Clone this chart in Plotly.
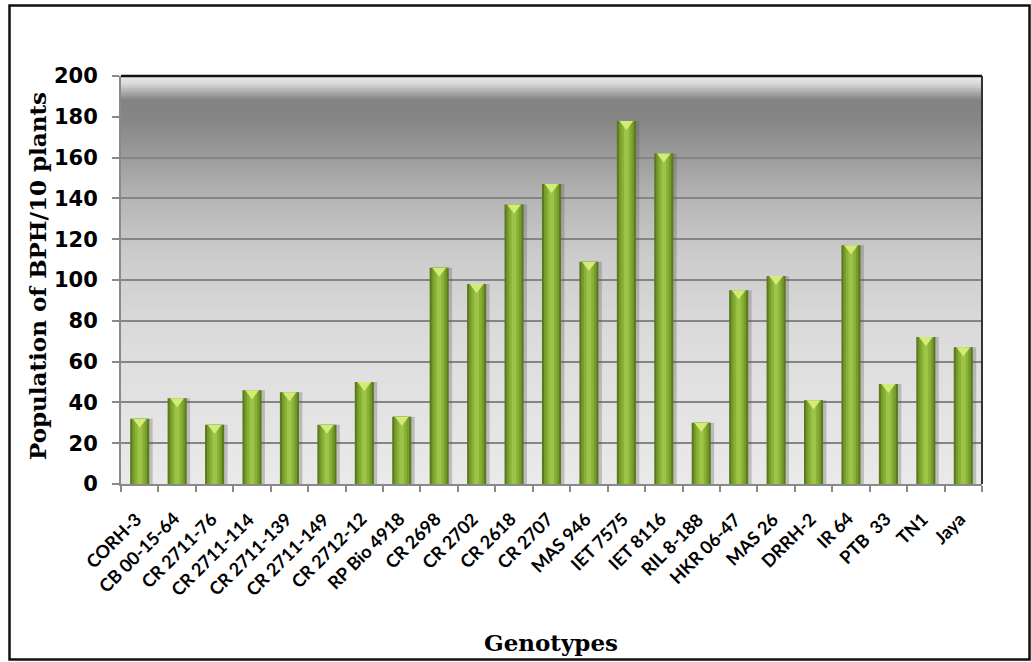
import plotly.graph_objects as go

# Genotypes and brown planthopper counts per 10 plants
genotypes = ["CORH-3", "CB 00-15-64", "CR 2711-76", "CR 2711-114", "CR 2711-139",
             "CR 2711-149", "CR 2712-12", "RP Bio 4918", "CR 2698", "CR 2702",
             "CR 2618", "CR 2707", "MAS 946", "IET 7575", "IET 8116", "RIL 8-188",
             "HKR 06-47", "MAS 26", "DRRH-2", "IR 64", "PTB  33", "TN1", "Jaya"]
bph_population = [32, 42, 29, 46, 45, 29, 50, 33, 106, 98, 137, 147, 109, 178, 162,
                  30, 95, 102, 41, 117, 49, 72, 67]

y_ticks = [0, 20, 40, 60, 80, 100, 120, 140, 160, 180, 200]

# Plot-area geometry (pixels) used to place decorations
W, H = 1031, 662
L, R, T, B = 121, 982, 76, 484
PW, PH = R - L, B - T


def px_x(p):
    return (p - L) / PW


def px_y(p):
    return (B - p) / PH


fig = go.Figure()

bar_w = 0.51
# soft drop shadow to the right of each column
fig.add_trace(go.Bar(x=genotypes, y=bph_population, width=bar_w, offset=-bar_w / 2 + 0.09,
                     marker=dict(color="rgba(90,90,90,0.30)", line=dict(width=0)),
                     hoverinfo="skip", showlegend=False))
# cylinder shading: dark rim, mid body, bright core
for w, col in [(bar_w, "#5b7a1c"), (0.40, "#769c2c"), (0.27, "#89b137"), (0.13, "#9cc548")]:
    fig.add_trace(go.Bar(x=genotypes, y=bph_population, width=w, offset=-w / 2,
                         marker=dict(color=col, line=dict(width=0)),
                         hoverinfo="skip", showlegend=False))

# light caps on the column tops
cap_size = 12
cap_shift = (cap_size / 4) * 200 / PH
fig.add_trace(go.Scatter(x=genotypes, y=[v - cap_shift for v in bph_population], mode="markers",
                         marker=dict(symbol="triangle-down", size=cap_size, color="#d3ec78",
                                     line=dict(width=0)),
                         hoverinfo="skip", showlegend=False))

# vertical gray gradient for the plotting area (style stops: pixel row -> gray level)
stops = [(76, 238), (84, 216), (92, 172), (100, 130), (120, 134), (160, 158),
         (200, 182), (260, 205), (340, 220), (420, 228), (484, 234)]


def gray_at(p):
    for (p0, g0), (p1, g1) in zip(stops[:-1], stops[1:]):
        if p0 <= p <= p1:
            return g0 + (g1 - g0) * (p - p0) / (p1 - p0)
    return stops[-1][1]


shapes = []
step = 2
for p in range(T, B, step):
    g = int(round(gray_at(p + step / 2)))
    shapes.append(dict(type="rect", xref="paper", yref="paper", layer="below",
                       x0=0, x1=1, y0=px_y(p + step), y1=px_y(p),
                       fillcolor=f"rgb({g},{g},{g})", line=dict(width=0)))

# top and right border of the plotting area
shapes.append(dict(type="line", xref="paper", yref="paper", x0=0, x1=1, y0=1, y1=1,
                   line=dict(color="#111111", width=2.5)))
shapes.append(dict(type="line", xref="paper", yref="paper", x0=1, x1=1, y0=0, y1=1,
                   line=dict(color="#333333", width=2)))
# outer frame around the whole chart
shapes.append(dict(type="rect", xref="paper", yref="paper",
                   x0=px_x(9.5), x1=px_x(1029.5), y0=px_y(659.5), y1=px_y(5.5),
                   line=dict(color="#111111", width=2.5), fillcolor="rgba(0,0,0,0)"))

# slanted category labels under the axis
label_font = dict(family="Lato", size=18, color="black", weight="bold")
annotations = [
    dict(text=g, x=g, xref="x", y=px_y(505), yref="paper", xanchor="right", yanchor="top",
         xshift=9, textangle=-45, showarrow=False, font=label_font)
    for g in genotypes
]
annotations += [
    dict(text="<b>Population of BPH/10 plants</b>", xref="paper", yref="paper",
         x=px_x(37), y=px_y(276), xanchor="center", yanchor="middle",
         textangle=-90, showarrow=False,
         font=dict(family="DejaVu Serif", size=23, color="black")),
    dict(text="<b>Genotypes</b>", xref="paper", yref="paper",
         x=px_x(551), y=px_y(642), xanchor="center", yanchor="middle", showarrow=False,
         font=dict(family="DejaVu Serif", size=23, color="black")),
]

fig.update_layout(
    width=W, height=H,
    margin=dict(l=L, r=W - R, t=T, b=H - B, autoexpand=False),
    paper_bgcolor="white",
    plot_bgcolor="rgba(0,0,0,0)",
    barmode="overlay",
    bargap=0.49,
    showlegend=False,
    shapes=shapes,
    annotations=annotations,
)

fig.update_xaxes(
    type="category", categoryorder="array", categoryarray=genotypes,
    tickson="boundaries", showticklabels=False,
    ticks="outside", ticklen=6, tickcolor="#8a8a8a", tickwidth=1.5,
    showline=True, linecolor="#8a8a8a", linewidth=2,
    showgrid=False, range=[-0.5, len(genotypes) - 0.5],
    automargin=False,
)

fig.update_yaxes(
    range=[0, 200], tickvals=y_ticks, ticktext=[str(v) for v in y_ticks],
    ticks="outside", ticklen=7, tickcolor="#8a8a8a", tickwidth=1.5,
    ticklabelstandoff=10,
    showline=True, linecolor="#8a8a8a", linewidth=2,
    showgrid=True, gridcolor="#858585", gridwidth=1.5,
    zeroline=False,
    tickfont=dict(family="DejaVu Sans", size=21, color="black", weight="bold"),
    automargin=False,
)

fig.write_html("out.html")
